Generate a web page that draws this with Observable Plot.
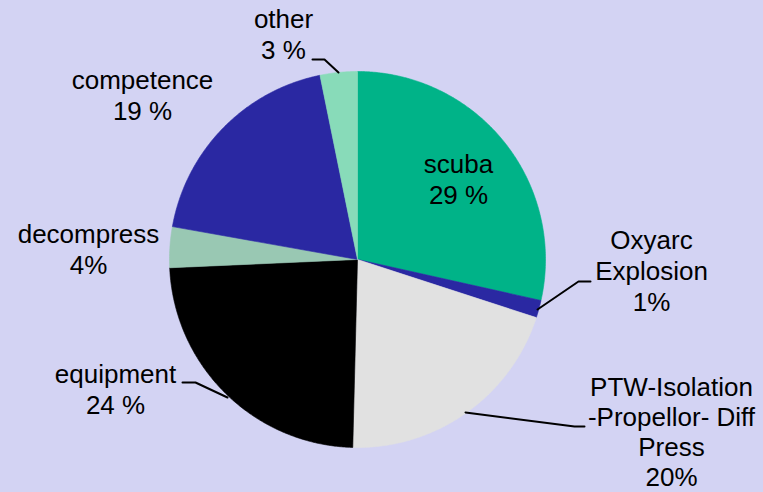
<!DOCTYPE html>
<html>
<head>
<meta charset="utf-8">
<script src="https://cdn.jsdelivr.net/npm/d3@7"></script>
<script src="https://cdn.jsdelivr.net/npm/@observablehq/plot@0.6"></script>
<style>
  html, body { margin: 0; padding: 0; background: #d3d3f3; }
  #chart { width: 763px; height: 492px; overflow: hidden; }
</style>
</head>
<body>
<div id="chart"></div>
<script>
// ---- data ----
const categories = ["scuba", "Oxyarc Explosion", "PTW-Isolation -Propellor- Diff Press", "equipment", "decompress", "competence", "other"];
const values = [28.5, 1.5, 20.4, 23.9, 3.5, 19.0, 3.2];
const labelLines = [
  ["scuba", "29 %"],
  ["Oxyarc", "Explosion", "1%"],
  ["PTW-Isolation", "-Propellor- Diff", "Press", "20%"],
  ["equipment", "24 %"],
  ["decompress", "4%"],
  ["competence", "19 %"],
  ["other", "3 %"]
];
const colors = ["#00b388", "#2a28a2", "#e1e1e1", "#000000", "#99c8b3", "#2a28a2", "#88dbb9"];

// ---- layout (pixel space) ----
const W = 763, H = 492;
const cx = 357, cy = 259, R = 188;
const labelPos = [[458, 172], [651, 248], [671, 395], [115, 382], [88, 242], [142, 88], [283, 27]];
const lineHeights = [31, 31, 30.3, 31, 31, 31, 31];
const leaders = [
  null,
  [[537, 309], [578, 281], [590, 281]],
  [[465, 412], [574, 426], [584, 426]],
  [[227, 397], [195, 382], [182, 382]],
  null,
  null,
  [[338, 72], [324, 59], [312, 59]]
];

const total = d3.sum(values);
let acc = 0;
const slices = values.map((v, i) => {
  const a0 = acc / total * 2 * Math.PI;
  acc += v;
  const a1 = acc / total * 2 * Math.PI;
  const pts = [{x: cx, y: cy}];
  const n = Math.max(2, Math.ceil((a1 - a0) / (Math.PI / 360)));
  for (let k = 0; k <= n; k++) {
    const a = a0 + (a1 - a0) * k / n;
    pts.push({x: cx + R * Math.sin(a), y: cy - R * Math.cos(a)});
  }
  pts.push({x: cx, y: cy});
  return {category: categories[i], color: colors[i], pts};
});

const textRows = [];
labelLines.forEach((lines, i) => {
  lines.forEach((t, j) => {
    textRows.push({text: t, x: labelPos[i][0], y: labelPos[i][1] + j * lineHeights[i]});
  });
});

const leaderRows = [];
leaders.forEach((l, i) => {
  if (l) l.forEach(p => leaderRows.push({cat: categories[i], x: p[0], y: p[1]}));
});

const marks = slices.map(s => Plot.line(s.pts, {
  x: "x", y: "y", fill: s.color, stroke: s.color, strokeWidth: 0.6, curve: "linear"
}));
marks.push(Plot.line(leaderRows, {x: "x", y: "y", z: "cat", stroke: "#000", strokeWidth: 2}));
marks.push(Plot.text(textRows, {
  x: "x", y: "y", text: "text", textAnchor: "middle", lineAnchor: "bottom",
  fontSize: 26, fill: "#000"
}));

const chart = Plot.plot({
  width: W,
  height: H,
  margin: 0,
  x: {domain: [0, W], range: [0, W], axis: null},
  y: {domain: [0, H], range: [0, H], axis: null},
  style: {background: "#d3d3f3", fontFamily: "'Liberation Sans', Arial, sans-serif"},
  marks
});
document.getElementById("chart").appendChild(chart);
</script>
</body>
</html>
